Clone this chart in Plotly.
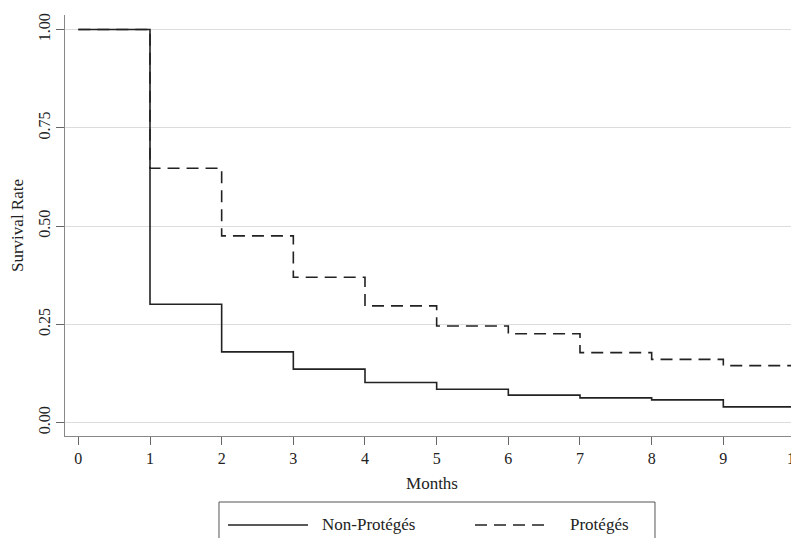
import plotly.graph_objects as go

months = [0, 1, 2, 3, 4, 5, 6, 7, 8, 9, 10]
non_proteges = [1.00, 0.301, 0.180, 0.136, 0.102, 0.085, 0.070, 0.063, 0.058, 0.040, 0.040]
proteges = [1.00, 0.647, 0.475, 0.370, 0.297, 0.246, 0.226, 0.178, 0.161, 0.145, 0.145]
y_ticks = [0, 0.25, 0.5, 0.75, 1.0]
y_ticktext = ["0.00", "0.25", "0.50", "0.75", "1.00"]

FONT = "Liberation Serif"
LINE = "#222222"

fig = go.Figure()
fig.add_trace(go.Scatter(x=months, y=proteges, mode="lines", line_shape="hv",
                         name="Protégés",
                         line=dict(color=LINE, width=1.6, dash="12px,7px")))
fig.add_trace(go.Scatter(x=months, y=non_proteges, mode="lines", line_shape="hv",
                         name="Non-Protégés",
                         line=dict(color=LINE, width=1.6)))

fig.update_layout(
    width=791, height=530,
    margin=dict(l=57, r=0, t=7, b=102, autoexpand=False),
    paper_bgcolor="white", plot_bgcolor="white",
    showlegend=False,
    font=dict(family=FONT, size=15, color="#222"),
    xaxis=dict(range=[-0.186, 10.056], tickvals=months, showgrid=False, zeroline=False,
               showline=True, linecolor="#888", linewidth=1, automargin=False,
               ticks="outside", ticklen=8, tickcolor="#666",
               tickfont=dict(size=16), ticklabeloverflow="allow",
               title=dict(text="Months", font=dict(size=17), standoff=10)),
    yaxis=dict(range=[-0.034, 1.037], tickvals=y_ticks, ticktext=y_ticktext,
               tickangle=-90, showgrid=True, gridcolor="#dcdcdc", gridwidth=1,
               zeroline=False, showline=True, linecolor="#888", linewidth=1, automargin=False,
               ticks="outside", ticklen=8, tickcolor="#666",
               tickfont=dict(size=16),
               title=dict(text="Survival Rate", font=dict(size=17), standoff=12)),
)

# Manual legend box (bottom, partially cut off like the original)
fig.add_shape(type="rect", xref="paper", yref="paper",
              x0=0.2098, x1=0.8038, y0=-0.32, y1=-0.1568,
              line=dict(color="#555", width=1), fillcolor="white")
fig.add_shape(type="line", xref="paper", yref="paper",
              x0=0.2221, x1=0.3311, y0=-0.2114, y1=-0.2114,
              line=dict(color=LINE, width=1.6))
fig.add_shape(type="line", xref="paper", yref="paper",
              x0=0.5586, x1=0.6567, y0=-0.2114, y1=-0.2114,
              line=dict(color=LINE, width=1.6, dash="12px,7px"))
fig.add_annotation(xref="paper", yref="paper", x=0.3474, y=-0.2114,
                   xanchor="left", yanchor="middle", showarrow=False,
                   text="Non-Protégés", font=dict(size=17, family=FONT, color="#222"))
fig.add_annotation(xref="paper", yref="paper", x=0.6853, y=-0.2114,
                   xanchor="left", yanchor="middle", showarrow=False,
                   text="Protégés", font=dict(size=17, family=FONT, color="#222"))

fig.write_html("out.html")
